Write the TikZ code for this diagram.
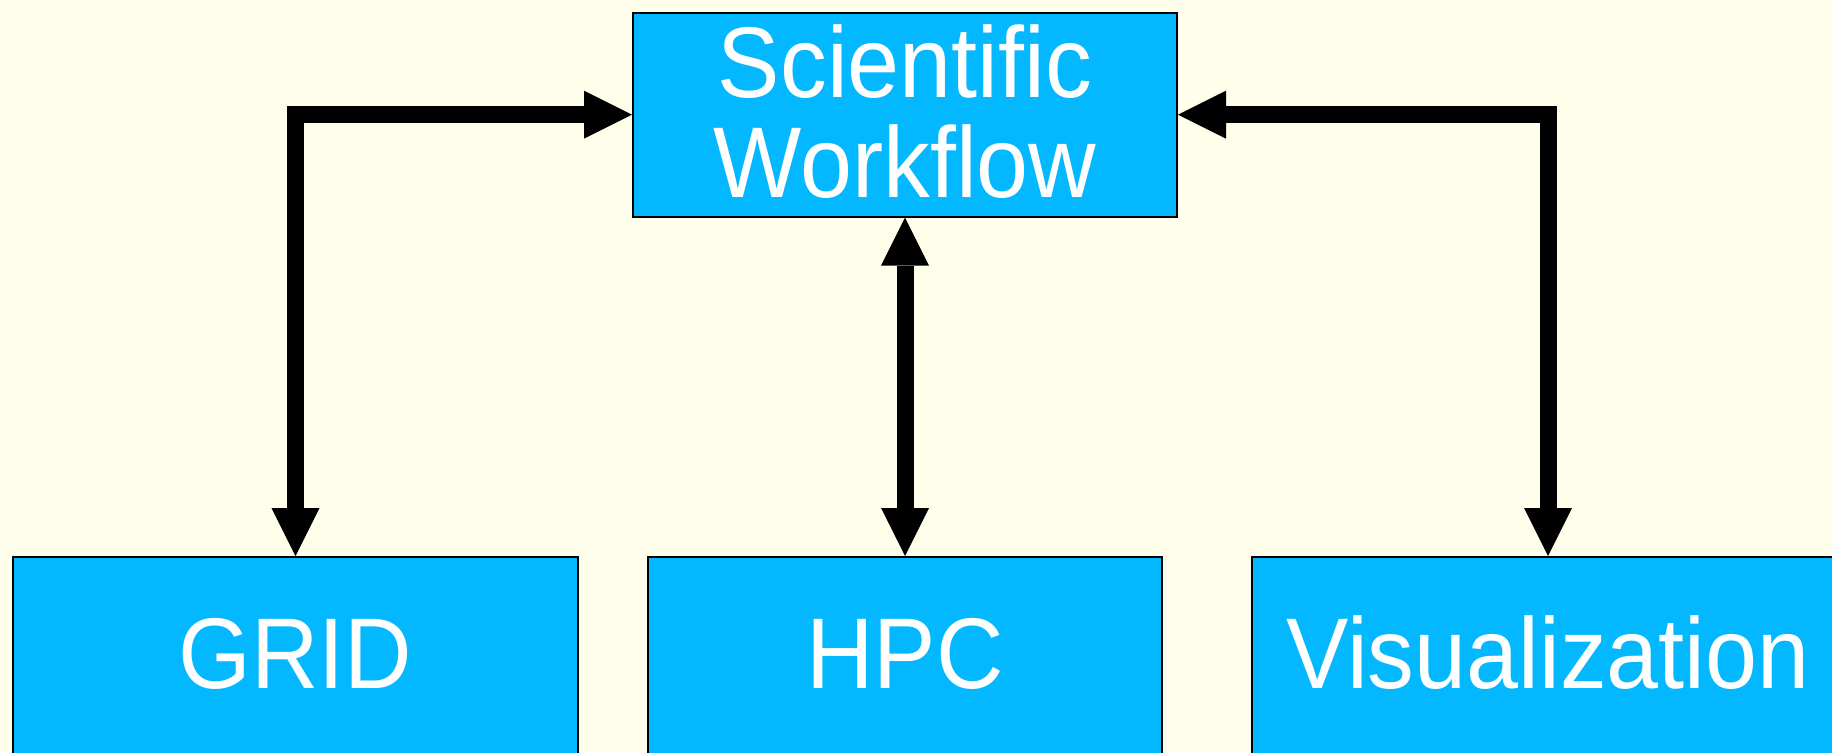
\documentclass[tikz,border=0pt]{standalone}
\usepackage{fontspec}
\setmainfont{Liberation Sans}[FakeStretch=0.93]
\usetikzlibrary{arrows.meta}

\begin{document}
\begin{tikzpicture}[
    box/.style={draw=black, line width=0.02cm, fill=r3g184b255, text=white,
      inner sep=0pt, font=\fontsize{28.6}{28.45}\selectfont},
    panel/.style={box, minimum height=2.03cm, text height=0.72cm, text depth=0.13cm},
    link/.style={line width=0.17cm,
      {Triangle[length=0.48cm,width=0.48cm,line width=0pt]}-{Triangle[length=0.48cm,width=0.48cm,line width=0pt]}}
  ]
  % Changing colors
  \definecolor{r255g254b234}{RGB}{255,254,234}%
  \definecolor{r3g184b255}{RGB}{3,184,255}%

  % Page and background
  \useasboundingbox (0.000000,0.000000) rectangle (18.320000,7.520000);
  \clip (0.000000,0.000000) rectangle (18.320000,7.520000);
  \fill [r255g254b234] (0.000000,0.000000) rectangle (18.320000,7.520000);

  % Drawing box flow
  \node [box, minimum width=5.44cm, minimum height=2.04cm, align=center,
    text height=1.73cm, text depth=0.08cm] (flow)
    at (9.050000,6.373000) {Scientific\\Workflow};

  % Drawing boxes grid hpc vis
  \node [panel, minimum width=5.65cm] (grid) at (2.955000,0.935000) {GRID};
  \node [panel, minimum width=5.14cm] (hpc) at (9.050000,0.935000) {HPC};
  \node [panel, minimum width=5.92cm] (vis) at (15.480000,0.935000) {Visualization};

  % Drawing arrows flow grid, flow hpc, flow vis
  \draw [link] (flow.west) -| (grid.north);
  \draw [link] (flow.south) -- (hpc.north);
  \draw [link] (flow.east) -| (vis.north);
\end{tikzpicture}
\end{document}
